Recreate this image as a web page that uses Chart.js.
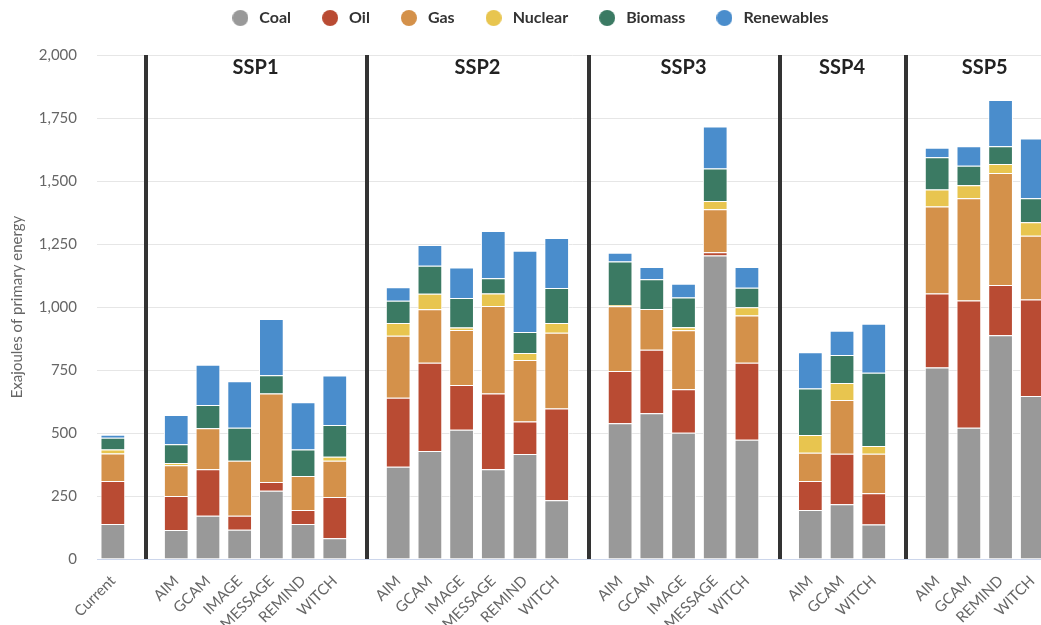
<!DOCTYPE html>
<html>
<head>
<meta charset="utf-8">
<script src="https://cdn.jsdelivr.net/npm/chart.js@4"></script>
<style>
  html, body { margin: 0; padding: 0; background: #fff; overflow: hidden; }
  #wrap { position: relative; width: 1058px; height: 625px; }
</style>
</head>
<body>
<div id="wrap"><canvas id="c"></canvas></div>
<script>
// ---- data ----
const categories = ['Current','',
  'AIM','GCAM','IMAGE','MESSAGE','REMIND','WITCH','',
  'AIM','GCAM','IMAGE','MESSAGE','REMIND','WITCH','',
  'AIM','GCAM','IMAGE','MESSAGE','WITCH','',
  'AIM','GCAM','WITCH','',
  'AIM','GCAM','REMIND','WITCH'];
const separatorIndices = [1, 8, 15, 21, 25];
const groupLabels = ['SSP1','SSP2','SSP3','SSP4','SSP5'];
const seriesNames = ['Coal','Oil','Gas','Nuclear','Biomass','Renewables'];

const coal = [139,null, 115,172,116,271,139,82,null, 366,429,513,356,417,233,null, 539,578,501,1204,473,null, 194,217,137,null, 760,521,888,647];
const oil = [171,null, 135,184,56,35,55,164,null, 274,350,177,301,129,364,null, 207,252,173,13,306,null, 116,201,124,null, 294,505,199,383];
const gas = [109,null, 122,163,218,351,135,144,null, 246,212,219,347,244,301,null, 257,162,234,171,187,null, 112,213,157,null, 345,406,445,253];
const nuclear = [16,null, 9,0,0,0,0,16,null, 51,62,10,50,27,39,null, 5,0,12,33,33,null, 70,67,30,null, 67,51,35,53];
const biomass = [46,null, 74,92,131,72,106,126,null, 88,111,117,60,84,138,null, 173,118,118,129,77,null, 185,112,291,null, 128,78,71,96];
const renewables = [12,null, 116,160,184,223,187,196,null, 53,82,121,188,322,199,null, 34,49,54,166,83,null, 143,96,195,null, 38,77,183,237];

const yTicksMax = 2000;
const yTickStep = 250;

// ---- styles ----
const colors = ['#999999','#b94b33','#d4914a','#e8c54f','#3b7a63','#4a8dcc'];
const seriesData = [coal, oil, gas, nuclear, biomass, renewables];

function dot(color) {
  const c = document.createElement('canvas');
  c.width = 16; c.height = 16;
  const g = c.getContext('2d');
  g.fillStyle = color;
  g.beginPath(); g.arc(8, 8, 8, 0, Math.PI * 2); g.fill();
  return c;
}
const dots = colors.map(dot);

Chart.defaults.font.family = 'Lato, "Noto Sans", sans-serif';

const datasets = seriesNames.map((name, i) => ({
  label: name,
  data: seriesData[i],
  backgroundColor: colors[i],
  borderColor: '#ffffff',
  borderWidth: 1,
  categoryPercentage: 1.0,
  barPercentage: 0.78,
  stack: 's'
}));

const legendFix = {
  id: 'legendFix',
  beforeUpdate(chart) {
    const lg = chart.legend;
    if (lg && !lg._patched) {
      const f = lg.fit;
      lg.fit = function () { f.call(this); this.height = 73; };
      lg._patched = true;
    }
  }
};

const decor = {
  id: 'decor',
  beforeDatasetsDraw(chart) {
    const { ctx, chartArea, scales } = chart;
    const x = scales.x;
    ctx.save();
    ctx.strokeStyle = '#333333';
    ctx.lineWidth = 4;
    separatorIndices.forEach(idx => {
      const px = Math.round(x.getPixelForValue(idx)) + 1;
      ctx.beginPath();
      ctx.moveTo(px, chartArea.top);
      ctx.lineTo(px, chartArea.bottom);
      ctx.stroke();
    });
    ctx.fillStyle = '#222222';
    ctx.font = 'bold 20px Lato, "Noto Sans", sans-serif';
    ctx.textAlign = 'center';
    ctx.textBaseline = 'middle';
    groupLabels.forEach((lab, g) => {
      const start = separatorIndices[g] + 1;
      const end = g + 1 < separatorIndices.length ? separatorIndices[g + 1] - 1 : categories.length - 1;
      const cx = x.getPixelForValue((start + end) / 2);
      ctx.fillText(lab, cx, chartArea.top + 13);
    });
    ctx.restore();
  }
};

new Chart(document.getElementById('c'), {
  type: 'bar',
  data: { labels: categories, datasets },
  plugins: [legendFix, decor],
  options: {
    responsive: true,
    maintainAspectRatio: false,
    animation: false,
    layout: { padding: { top: -18, left: 0, right: 0, bottom: 0 } },
    plugins: {
      tooltip: { enabled: false },
      legend: {
        position: 'top',
        labels: {
          usePointStyle: true,
          pointStyleWidth: 22,
          boxHeight: 16,
          padding: 28,
          color: '#333333',
          font: { size: 16, weight: 'bold' },
          generateLabels(chart) {
            const items = Chart.defaults.plugins.legend.labels.generateLabels(chart);
            items.forEach(it => { it.pointStyle = dots[it.datasetIndex]; it.lineWidth = 0; });
            return items;
          }
        }
      }
    },
    scales: {
      x: {
        stacked: true,
        grid: { display: false, drawTicks: false },
        border: { display: true, color: '#ccd6eb', width: 1 },
        ticks: {
          autoSkip: false,
          minRotation: 45,
          maxRotation: 45,
          padding: 13,
          color: '#666666',
          font: { size: 15 }
        },
        afterFit(s) { s.height = 66; }
      },
      y: {
        stacked: true,
        min: 0,
        max: yTicksMax,
        ticks: { stepSize: yTickStep, padding: 20, color: '#666666', font: { size: 15 } },
        grid: { color: '#e6e6e6', drawTicks: false },
        border: { display: false },
        title: {
          display: true,
          text: 'Exajoules of primary energy',
          color: '#666666',
          font: { size: 15 },
          padding: { top: 8, bottom: 0 }
        },
        afterFit(s) { s.width = 97; }
      }
    }
  }
});
</script>
</body>
</html>
